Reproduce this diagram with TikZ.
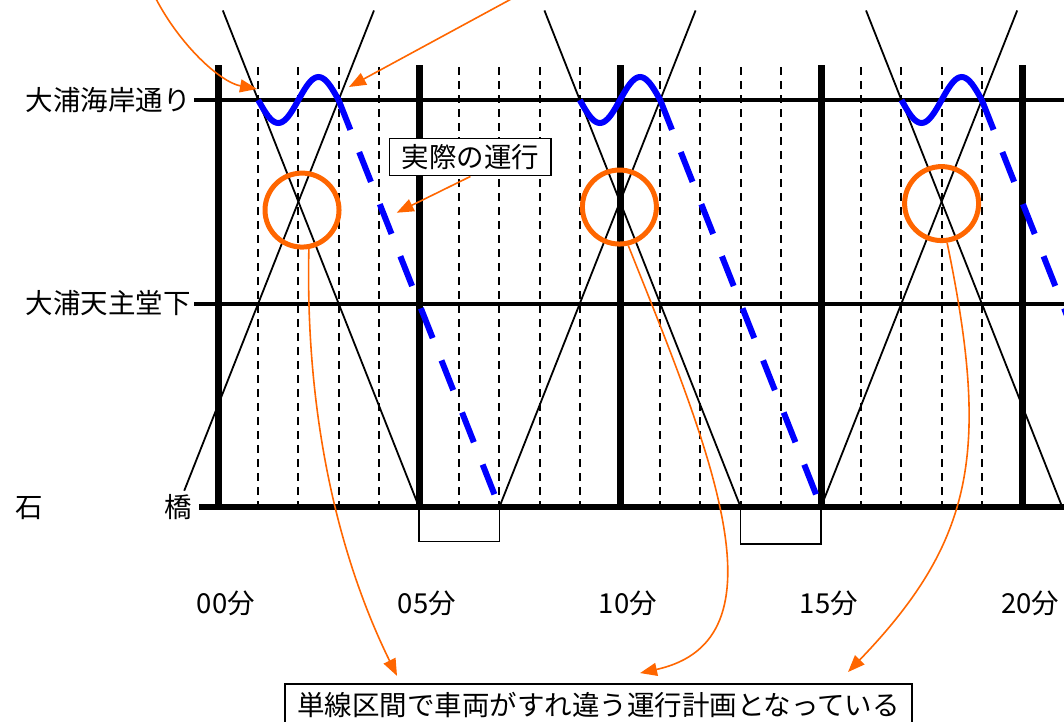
\documentclass[tikz,border=0pt]{standalone}
\usepackage{fontspec}
\setmainfont{Noto Sans CJK JP}
\usetikzlibrary{calc,arrows.meta}
\definecolor{runblue}{RGB}{0,0,255}
\definecolor{noteorange}{RGB}{255,102,0}

\begin{document}
\begin{tikzpicture}[x=40.2pt,y=203.5pt,
  every node/.style={font=\fontsize{27.5}{33}\selectfont},
  station/.style={line width=4pt},
  hour/.style={line width=7pt},
  minute/.style={line width=2pt,dash pattern=on 8pt off 6pt},
  train/.style={line width=1.8pt},
  run/.style={runblue,line width=6pt},
  ring/.style={circle,draw=noteorange,line width=5pt,minimum size=74pt,inner sep=0pt},
  note/.style={noteorange,line width=1.6pt,-{Triangle[length=17pt,width=13pt]}},
  textbox/.style={draw,fill=white,line width=1.5pt,inner xsep=12pt,inner ysep=6pt}]
\useasboundingbox (-218pt,-214pt) rectangle (846pt,507pt);
\draw [station] (-0.59,2)--(21.2,2);
\draw [station] (-0.59,1)--(21.2,1);
\draw [line width=6pt] (-0.47,0)--(21.2,0);
\node[left] (kaigan) at (-0.59,2) {大浦海岸通り};
\node[left] (tenshudo) at (-0.59,1) {大浦天主堂下};
\node[left] (ishibashi) at (-0.57,0) {石\hspace{121pt}橋};
\foreach \m in {1,2,3,4,6,7,8,9,11,12,13,14,16,17,18,19}
{       \draw [minute] (\m,2.16)--(\m,0);
}
\foreach \m/\lab in {0/00,5/05,10/10,15/15,20/20}
{       \draw [hour] (\m,0)--(\m,2.172);
        \node[xshift=8pt] (t\m) at (\m,-0.472) {\lab{}分};
}
\foreach \s in {1,9,17}
{       \draw [train] (\s-0.88,2.44)--(\s+4,0);
}
\foreach \s/\b in {-1/0.08,7/0,15/0}
{       \draw [train] (\s+2*\b,\b)--(\s+4.88,2.44);
}
\draw [line width=1.5pt] (5,0)--(5,-0.17)--(7,-0.17)--(7,0);
\draw [line width=1.5pt] (13,0)--(13,-0.182)--(15,-0.182)--(15,0);
\foreach \s in {1,9,17}
{       \draw [run] plot[domain=0:2,samples=41] ({\s+\x},{2-0.113*sin(180*\x)});
        \draw [run,dash pattern=on 32pt off 24pt] (\s+2,2)--(\s+6,0);
}
\node[ring] (c1) at (2.09,1.459) {};
\node[ring] (c2) at (9.985,1.474) {};
\node[ring] (c3) at (18.0,1.491) {};
\node[textbox] (jissai) at (6.28,1.72) {実際の運行};
\node[textbox,inner ysep=8pt] (keikaku) at (9.465,-0.972) {単線区間で車両がすれ違う運行計画となっている};
\coordinate (from1) at (-1.55,2.5);
\coordinate (dep1) at (0.97,2.054);
\coordinate (from2) at (7.33,2.5);
\coordinate (dep2) at (3.259,2.064);
\coordinate (late) at (4.445,1.446);
\coordinate (k1) at (4.453,-0.830);
\coordinate (k2) at (10.498,-0.816);
\coordinate (k3) at (15.672,-0.811);
\draw [note] (from1) .. controls (-0.945,2.27) and (0.05,2.088) .. (dep1);
\draw [note] (from2)--(dep2);
\draw [note] (jissai.south)--(late);
\draw [note] (c1.-80) .. controls (2.164,0.428) and (3.035,-0.26) .. (k1);
\draw [note] (c2.-77) .. controls (12.239,0.28) and (14.229,-0.654) .. (k2);
\draw [note] (c3.-82) .. controls (19.204,0.279) and (18.831,-0.162) .. (k3);
\end{tikzpicture}
\end{document}
